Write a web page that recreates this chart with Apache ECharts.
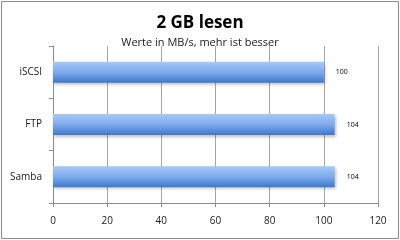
<!DOCTYPE html>
<html><head><meta charset="utf-8">
<script src="https://cdn.jsdelivr.net/npm/echarts@6/dist/echarts.min.js"></script>
<style>html,body{margin:0;padding:0;background:#fff}#c{width:400px;height:240px}</style>
</head><body><div id="c"></div>
<script>
const categories = ['Samba', 'FTP', 'iSCSI'];
const values = [104, 104, 100];
const xTicks = [0, 20, 40, 60, 80, 100, 120];
const titleText = '2 GB lesen';
const subtitleText = 'Werte in MB/s, mehr ist besser';

const chart = echarts.init(document.getElementById('c'), null, {renderer: 'canvas'});
const font = 'Open Sans';
chart.setOption({
  animation: false,
  graphic: [{type: 'rect', shape: {x: 1.5, y: 1.5, width: 397, height: 237}, style: {fill: 'none', stroke: '#8c8c8c', lineWidth: 1}, silent: true}],
  title: {
    text: titleText, subtext: subtitleText, left: 'center', top: 10, itemGap: 5,
    textStyle: {fontFamily: font, fontSize: 17, fontWeight: 'bold', color: '#000'},
    subtextStyle: {fontFamily: font, fontSize: 11, color: '#1a1a1a'}
  },
  grid: {left: 53, right: 22, top: 46, bottom: 37, containLabel: false},
  xAxis: {
    type: 'value', min: 0, max: 120, interval: 20,
    axisLine: {show: true, lineStyle: {color: '#8c8c8c'}},
    axisTick: {show: true, length: 4, lineStyle: {color: '#8c8c8c'}},
    axisLabel: {fontFamily: font, fontSize: 10, color: '#1a1a1a', margin: 13, formatter: v => xTicks.includes(v) ? String(v) : ''},
    splitLine: {show: true, lineStyle: {color: '#a6a6a6', width: 1}}
  },
  yAxis: {
    type: 'category', data: categories,
    axisLine: {show: true, lineStyle: {color: '#8c8c8c'}},
    axisTick: {show: true, length: 4, lineStyle: {color: '#8c8c8c'}},
    axisLabel: {fontFamily: font, fontSize: 10, color: '#1a1a1a', margin: 11}
  },
  series: [{
    type: 'bar', data: values, barWidth: 21,
    itemStyle: {
      color: new echarts.graphic.LinearGradient(0, 0, 0, 1, [
        {offset: 0, color: '#a6c9f8'}, {offset: 0.5, color: '#7eaaec'}, {offset: 1, color: '#3c78cf'}
      ]),
      shadowColor: 'rgba(0,0,0,0.25)', shadowBlur: 3, shadowOffsetX: 1, shadowOffsetY: 2
    },
    label: {show: true, position: 'right', distance: 12, fontFamily: font, fontSize: 7, color: '#000'}
  }]
});
</script></body></html>
